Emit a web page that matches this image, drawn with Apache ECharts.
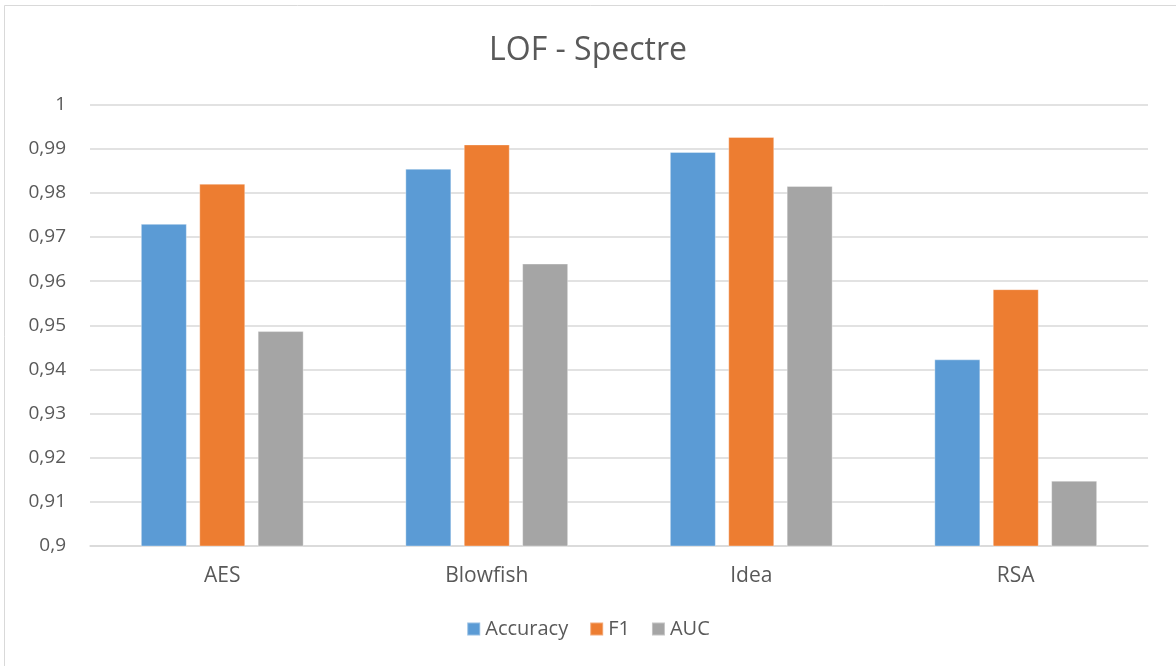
<!DOCTYPE html>
<html>
<head>
<meta charset="utf-8">
<script src="https://cdn.jsdelivr.net/npm/echarts@6/dist/echarts.min.js"></script>
<style>
  html, body { margin: 0; padding: 0; background: #fff; }
  #chart { width: 1176px; height: 666px; }
</style>
</head>
<body>
<div id="chart"></div>
<script>
// Detection scores of LOF per cipher
const categories = ['AES', 'Blowfish', 'Idea', 'RSA'];
const accuracy = [0.9730, 0.9855, 0.9893, 0.9423];
const f1 = [0.9821, 0.9910, 0.9927, 0.9582];
const auc = [0.9487, 0.9640, 0.9816, 0.9148];
const seriesNames = ['Accuracy', 'F1', 'AUC'];
const seriesColors = ['#5b9bd5', '#ed7d31', '#a5a5a5'];

const fontFamily = '"Open Sans", "Noto Sans", sans-serif';
const textColor = '#595959';

const chart = echarts.init(document.getElementById('chart'));

function barSeries(name, data, color) {
  return {
    name: name,
    type: 'bar',
    data: data,
    barWidth: 46,
    barGap: '27%',
    itemStyle: { color: color, borderColor: 'rgba(255,255,255,0.35)', borderWidth: 1 }
  };
}

chart.setOption({
  backgroundColor: '#ffffff',
  animation: false,
  title: {
    text: 'LOF - Spectre',
    left: 'center',
    top: 30,
    textStyle: { fontFamily: fontFamily, fontSize: 32, fontWeight: 400, color: textColor }
  },
  legend: {
    bottom: 22,
    left: 'center',
    itemWidth: 13,
    itemHeight: 13,
    itemGap: 21,
    icon: 'rect',
    textStyle: { fontFamily: fontFamily, fontSize: 20, color: textColor },
    data: seriesNames
  },
  grid: { left: 90, right: 28, top: 104.7, bottom: 120 },
  xAxis: {
    type: 'category',
    data: categories,
    axisTick: { show: false },
    axisLine: { lineStyle: { color: '#d9d9d9', width: 1.5 } },
    axisLabel: { fontFamily: fontFamily, fontSize: 21, color: textColor, margin: 20 }
  },
  yAxis: {
    type: 'value',
    min: 0.9,
    max: 1,
    interval: 0.01,
    axisLine: { show: false },
    axisTick: { show: false },
    splitLine: { lineStyle: { color: '#d9d9d9', width: 1.5 } },
    axisLabel: {
      fontFamily: fontFamily,
      fontSize: 19,
      color: textColor,
      margin: 24,
      formatter: function (v) {
        return String(Math.round(v * 100) / 100).replace('.', ',');
      }
    }
  },
  graphic: [{
    type: 'rect',
    shape: { x: 4.5, y: 5.5, width: 1200, height: 700 },
    style: { fill: 'none', stroke: '#d9d9d9', lineWidth: 1 },
    silent: true
  }],
  series: [
    barSeries(seriesNames[0], accuracy, seriesColors[0]),
    barSeries(seriesNames[1], f1, seriesColors[1]),
    barSeries(seriesNames[2], auc, seriesColors[2])
  ]
});
</script>
</body>
</html>
